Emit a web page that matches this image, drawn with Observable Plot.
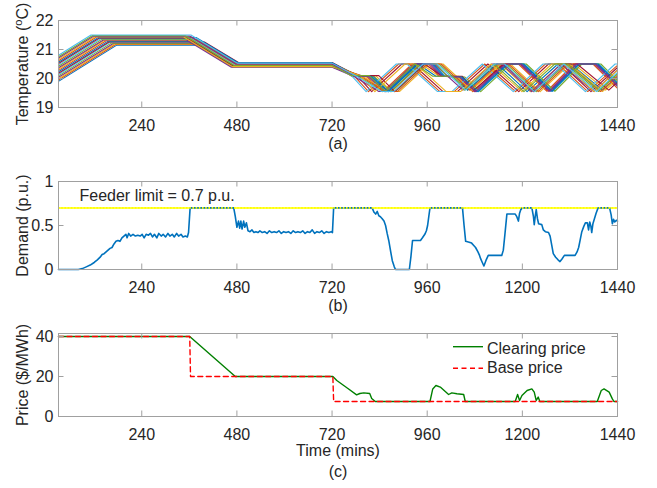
<!DOCTYPE html>
<html><head><meta charset="utf-8">
<script src="https://cdn.jsdelivr.net/npm/d3@7"></script>
<script src="https://cdn.jsdelivr.net/npm/@observablehq/plot@0.6"></script>
<style>
html,body{margin:0;padding:0;background:#fff;}
#wrap{position:relative;width:657px;height:488px;overflow:hidden;background:#fff;}
#wrap > svg{display:block;}
</style></head><body><div id="wrap"></div>
<script>
// ---------- data ----------
const xTicks = [240, 480, 720, 960, 1200, 1440];
const tempTicks = [19, 20, 21, 22];
const demandTicks = [0, 0.5, 1];
const priceTicks = [0, 20, 40];
const feederLimit = 0.7;
const feederText = "Feeder limit = 0.7 p.u.";
const legendLabels = ["Clearing price", "Base price"];

// house indoor temperatures, flat [t, v, t, v, ...] per house
const houseTemps = [
 [30,19.90,177,21.15,384,21.15,472,20.42,720,20.42,780,20.08,815,20.08,858,19.55,932,20.5,972,20.5,1000,20.08,1045,20.05,1085,19.55,1160,20.5,1200,20.5,1272,19.56,1340,20.5,1388,20.5,1440,19.8],
 [30,19.95,174,21.17,397,21.17,478,20.50,720,20.50,775,20.1,812,19.55,888,20.5,915,20.5,992,19.55,1028,19.55,1105,20.5,1183,19.55,1258,20.5,1290,20.5,1365,19.55,1440,20.45],
 [30,19.99,171,21.19,381,21.19,470,20.45,720,20.45,785,20.1,830,20.1,870,19.55,945,20.5,990,20.08,1040,20.08,1070,19.6,1145,20.5,1220,19.55,1298,20.5,1330,20.5,1410,19.6,1440,19.95],
 [30,20.04,168,21.21,400,21.21,482,20.53,720,20.53,774,20.08,809,20.08,852,19.55,926,20.5,966,20.5,994,20.08,1039,20.05,1079,19.55,1154,20.5,1194,20.5,1266,19.56,1334,20.5,1382,20.5,1440,19.72],
 [30,20.09,163,21.22,369,21.22,468,20.40,720,20.40,790,20.05,850,19.55,880,19.55,955,20.5,990,20.5,1062,19.6,1135,20.5,1160,20.5,1235,19.55,1310,20.5,1392,19.55,1440,20.15],
 [30,20.14,159,21.24,384,21.24,476,20.48,720,20.48,785,20.08,820,20.08,863,19.55,937,20.5,977,20.5,1005,20.08,1050,20.05,1090,19.55,1165,20.5,1205,20.5,1277,19.56,1345,20.5,1393,20.5,1440,19.87],
 [30,20.18,157,21.26,398,21.26,484,20.55,720,20.55,783,20.1,820,19.55,896,20.5,923,20.5,1000,19.55,1036,19.55,1113,20.5,1191,19.55,1266,20.5,1298,20.5,1373,19.55,1440,20.38],
 [30,20.23,154,21.28,370,21.28,471,20.44,720,20.44,777,20.1,822,20.1,862,19.55,937,20.5,982,20.08,1032,20.08,1062,19.6,1137,20.5,1212,19.55,1290,20.5,1322,20.5,1402,19.6,1440,20.05],
 [30,20.28,150,21.30,384,21.30,479,20.51,720,20.51,770,20.08,805,20.08,848,19.55,922,20.5,962,20.5,990,20.08,1035,20.05,1075,19.55,1150,20.5,1190,20.5,1262,19.56,1330,20.5,1378,20.5,1440,19.66],
 [30,20.33,146,21.32,370,21.32,474,20.46,720,20.46,800,20.05,860,19.55,890,19.55,965,20.5,1000,20.5,1072,19.6,1145,20.5,1170,20.5,1245,19.55,1320,20.5,1402,19.55,1440,20.02],
 [30,20.37,143,21.33,353,21.33,466,20.39,720,20.39,778,20.05,838,19.55,868,19.55,943,20.5,978,20.5,1050,19.6,1123,20.5,1148,20.5,1223,19.55,1298,20.5,1380,19.55,1440,20.3],
 [30,20.42,139,21.35,380,21.35,480,20.52,720,20.52,790,20.08,825,20.08,868,19.55,942,20.5,982,20.5,1010,20.08,1055,20.05,1095,19.55,1170,20.5,1210,20.5,1282,19.56,1350,20.5,1398,20.5,1440,19.93],
 [30,20.47,136,21.37,367,21.37,475,20.47,720,20.47,769,20.1,806,19.55,882,20.5,909,20.5,986,19.55,1022,19.55,1099,20.5,1177,19.55,1252,20.5,1284,20.5,1359,19.55,1434,20.5,1440,20.5],
 [30,20.52,132,21.39,354,21.39,470,20.43,720,20.43,793,20.1,838,20.1,878,19.55,953,20.5,998,20.08,1048,20.08,1078,19.6,1153,20.5,1228,19.55,1306,20.5,1338,20.5,1418,19.6,1440,19.88],
 [30,20.56,130,21.41,378,21.41,483,20.54,720,20.54,783,20.08,818,20.08,861,19.55,935,20.5,975,20.5,1003,20.08,1048,20.05,1088,19.55,1163,20.5,1203,20.5,1275,19.56,1343,20.5,1391,20.5,1440,19.84],
 [30,20.61,126,21.43,364,21.43,477,20.49,720,20.49,795,20.05,855,19.55,885,19.55,960,20.5,995,20.5,1067,19.6,1140,20.5,1165,20.5,1240,19.55,1315,20.5,1397,19.55,1440,20.09],
 [30,20.66,122,21.44,345,21.44,469,20.41,720,20.41,791,20.1,828,19.55,904,20.5,931,20.5,1008,19.55,1044,19.55,1121,20.5,1199,19.55,1274,20.5,1306,20.5,1381,19.55,1440,20.29],
 [30,20.71,118,21.46,362,21.46,478,20.50,720,20.50,777,20.08,812,20.08,855,19.55,929,20.5,969,20.5,997,20.08,1042,20.05,1082,19.55,1157,20.5,1197,20.5,1269,19.56,1337,20.5,1385,20.5,1440,19.76],
 [30,20.75,116,21.48,349,21.48,473,20.45,720,20.45,769,20.1,814,20.1,854,19.55,929,20.5,974,20.08,1024,20.08,1054,19.6,1129,20.5,1204,19.55,1282,20.5,1314,20.5,1394,19.6,1440,20.17],
 [30,20.80,112,21.50,364,21.50,481,20.53,720,20.53,785,20.05,845,19.55,875,19.55,950,20.5,985,20.5,1057,19.6,1130,20.5,1155,20.5,1230,19.55,1305,20.5,1387,19.55,1440,20.21]
];

// aggregate demand (p.u.), [t, v]
const demand = [
 [30,0],[80,0],[90,0.01],[100,0.03],[110,0.05],[120,0.08],[128,0.11],[135,0.14],[140,0.17],[145,0.18],[150,0.2],[155,0.22],[160,0.24],[165,0.25],[170,0.29],[175,0.32],[180,0.33],[185,0.32],[190,0.36],[195,0.38],[200,0.40],[203,0.36],[207,0.41],[212,0.38],[218,0.40],[224,0.38],[230,0.39],[236,0.38],[241,0.40],[246,0.36],[251,0.40],[257,0.39],[262,0.41],[267,0.37],[272,0.40],[278,0.36],[283,0.41],[289,0.38],[294,0.40],[300,0.37],[306,0.41],[311,0.38],[317,0.40],[322,0.37],[328,0.41],[333,0.38],[339,0.40],[344,0.37],[350,0.38],[355,0.37],[358,0.42],[362,0.70],[472,0.70],[476,0.60],[480,0.48],[484,0.55],[487,0.47],[490,0.55],[493,0.46],[497,0.55],[500,0.48],[504,0.53],[508,0.44],[513,0.43],[518,0.45],[523,0.42],[528,0.43],[533,0.42],[538,0.44],[544,0.42],[550,0.43],[556,0.41],[562,0.44],[568,0.42],[574,0.43],[580,0.42],[586,0.44],[592,0.41],[598,0.43],[604,0.42],[610,0.43],[616,0.41],[622,0.44],[628,0.42],[634,0.43],[640,0.42],[646,0.44],[652,0.41],[658,0.43],[664,0.42],[670,0.45],[676,0.41],[682,0.43],[688,0.42],[694,0.44],[700,0.41],[706,0.43],[712,0.42],[718,0.43],[721,0.42],[724,0.70],[821,0.70],[826,0.65],[830,0.63],[834,0.66],[838,0.61],[842,0.60],[846,0.58],[851,0.55],[855,0.50],[859,0.41],[863,0.33],[868,0.20],[872,0.10],[877,0.03],[880,0],[915,0],[919,0.15],[923,0.33],[943,0.33],[948,0.36],[954,0.40],[958,0.44],[961,0.50],[964,0.60],[967,0.70],[1049,0.70],[1053,0.50],[1057,0.32],[1066,0.31],[1072,0.30],[1078,0.27],[1082,0.25],[1088,0.20],[1092,0.16],[1095,0.12],[1099,0.08],[1103,0.04],[1108,0.10],[1114,0.16],[1148,0.16],[1152,0.22],[1156,0.40],[1161,0.63],[1182,0.63],[1186,0.60],[1190,0.55],[1193,0.64],[1196,0.68],[1200,0.70],[1224,0.70],[1228,0.60],[1230,0.51],[1233,0.62],[1235,0.68],[1238,0.58],[1241,0.52],[1249,0.51],[1253,0.45],[1258,0.43],[1266,0.42],[1270,0.38],[1274,0.28],[1278,0.18],[1284,0.14],[1290,0.11],[1295,0.09],[1300,0.12],[1306,0.16],[1333,0.16],[1338,0.20],[1342,0.25],[1346,0.34],[1350,0.43],[1355,0.49],[1359,0.53],[1364,0.53],[1367,0.45],[1370,0.54],[1373,0.49],[1375,0.42],[1378,0.52],[1382,0.58],[1386,0.64],[1391,0.70],[1420,0.70],[1424,0.62],[1427,0.52],[1430,0.57],[1433,0.54],[1437,0.56],[1440,0.55]
];

// prices ($/MWh), [t, v]
const clearingPrice = [
 [30,40],[361,40],[476,20],[722,20],[732,18],[760,14],[782,10.8],[790,11.5],[800,11.8],[815,11.5],[820,9],[829,7.5],[967,7.5],[974,13.8],[982,15.5],[993,14.7],[1014,11],[1022,11.8],[1035,11.4],[1052,11],[1056,7.5],[1182,7.5],[1188,11],[1193,8],[1199,10.5],[1212,13],[1224,13.8],[1230,12.2],[1235,8],[1240,9.7],[1244,7.5],[1389,7.5],[1399,13],[1406,13.8],[1419,12.2],[1427,8.8],[1431,7.5],[1440,7.5]
];
const basePrice = [
 [30,40],[361,40],[363,20],[722,20],[724,7.5],[1440,7.5]
];

// ---------- styling ----------
const matlabColors = ["#0072BD","#D95319","#EDB120","#7E2F8E","#77AC30","#4DBEEE","#A2142F"];
const ink = "#262626";
const boxColor = "#a0a0a0";
const fontFam = '"Liberation Sans", Arial, Helvetica, sans-serif';
const W = 657, mL = 58, mR = 40, tickLen = 5.5;
const plotW = W - mL - mR;
const xDomain = [30, 1440];
const fmt = d => String(d);

function frameMarks(yTicks, plotH) {
  return [
    Plot.frame({stroke: boxColor}),
    Plot.tickX(xTicks, {x: d => d, stroke: boxColor, insetTop: plotH - tickLen}),
    Plot.tickX(xTicks, {x: d => d, stroke: boxColor, insetBottom: plotH - tickLen}),
    Plot.tickY(yTicks, {y: d => d, stroke: boxColor, insetRight: plotW - tickLen}),
    Plot.tickY(yTicks, {y: d => d, stroke: boxColor, insetLeft: plotW - tickLen}),
    Plot.axisX(xTicks, {tickSize: 0, tickPadding: 12, tickFormat: fmt, label: null, fill: ink}),
    Plot.axisY(yTicks, {tickSize: 0, tickPadding: 5, tickFormat: fmt, label: null, fill: ink})
  ];
}
function yLabel(txt) {
  return Plot.text([txt], {frameAnchor: "left", textAnchor: "middle", lineAnchor: "middle", rotate: -90, dx: -36, fill: ink});
}
const baseStyle = {fontFamily: fontFam, fontSize: "16px", color: ink, background: "transparent", overflow: "visible"};

// ---------- (a) temperature ----------
const tempRows = houseTemps.flatMap((arr, h) => {
  const rows = [];
  for (let k = 0; k < arr.length; k += 2) rows.push({house: h, t: arr[k], v: arr[k + 1]});
  return rows;
});
const hA = 160, topA = 20, botA = 53;
const chartA = Plot.plot({
  width: W, height: hA, marginLeft: mL, marginRight: mR, marginTop: topA, marginBottom: botA,
  style: baseStyle,
  x: {domain: xDomain},
  y: {domain: [19, 22]},
  color: {type: "ordinal", range: matlabColors},
  marks: [
    Plot.line(tempRows, {x: "t", y: "v", z: "house", stroke: "house", strokeWidth: 1.1}),
    ...frameMarks(tempTicks, hA - topA - botA),
    Plot.text(["(a)"], {frameAnchor: "bottom", dy: 41.5, fill: ink}),
    yLabel("Temperature (oC)")
  ]
});

// ---------- (b) demand ----------
const demandRows = demand.map(([t, v]) => ({t, v}));
const hB = 160, topB = 21, botB = 51;
const chartB = Plot.plot({
  width: W, height: hB, marginLeft: mL, marginRight: mR, marginTop: topB, marginBottom: botB,
  style: baseStyle,
  x: {domain: xDomain},
  y: {domain: [0, 1]},
  marks: [
    Plot.ruleY([feederLimit], {stroke: "#ffff00", strokeWidth: 1.5}),
    Plot.line(demandRows, {x: "t", y: "v", stroke: "#0072BD", strokeWidth: 1.6}),
    Plot.ruleY([feederLimit], {stroke: "#ffff00", strokeWidth: 1.6, strokeDasharray: "1.6,1.6"}),
    ...frameMarks(demandTicks, hB - topB - botB),
    Plot.text([feederText], {frameAnchor: "top-left", dx: 21, dy: 8.5, lineAnchor: "top", textAnchor: "start", fill: ink}),
    Plot.text(["(b)"], {frameAnchor: "bottom", dy: 41.5, fill: ink}),
    yLabel("Demand (p.u.)")
  ]
});

// ---------- (c) price ----------
const clearRows = clearingPrice.map(([t, v]) => ({t, v}));
const baseRows = basePrice.map(([t, v]) => ({t, v}));
const hC = 168, topC = 13, botC = 72;
const chartC = Plot.plot({
  width: W, height: hC, marginLeft: mL, marginRight: mR, marginTop: topC, marginBottom: botC,
  style: baseStyle,
  x: {domain: xDomain},
  y: {domain: [0, 41.5]},
  marks: [
    Plot.line(clearRows, {x: "t", y: "v", stroke: "#008000", strokeWidth: 1.4}),
    Plot.line(baseRows, {x: "t", y: "v", stroke: "#ff0000", strokeWidth: 1.4, strokeDasharray: "5,3.5"}),
    ...frameMarks(priceTicks, hC - topC - botC),
    Plot.text(["Time (mins)"], {frameAnchor: "bottom", dy: 39, fill: ink}),
    Plot.text(["(c)"], {frameAnchor: "bottom", dy: 60.5, fill: ink}),
    yLabel("Price ($/MWh)")
  ]
});

const wrap = document.getElementById("wrap");
wrap.append(chartA, chartB, chartC);

// superscript "o" in the temperature label
const lab = [...chartA.querySelectorAll("text")].find(e => e.textContent === "Temperature (oC)");
if (lab) {
  lab.textContent = "";
  const ns = "http://www.w3.org/2000/svg";
  const parts = [["Temperature (", null, null], ["o", "-5.5", "11px"], ["C)", "5.5", null]];
  for (const [txt, dy, fs] of parts) {
    const ts = document.createElementNS(ns, "tspan");
    ts.textContent = txt;
    if (dy) ts.setAttribute("dy", dy);
    if (fs) ts.setAttribute("font-size", fs);
    lab.appendChild(ts);
  }
}

// legend for (c)
const leg = d3.select(wrap).append("svg")
  .attr("width", 200).attr("height", 46)
  .style("position", "absolute").style("left", "450px").style("top", "336px")
  .style("font-family", fontFam).style("font-size", "16px");
const legStyles = [{stroke: "#008000", dash: null, ly: 10.7, ty: 18.2}, {stroke: "#ff0000", dash: "5,3.5", ly: 32.3, ty: 37.2}];
legendLabels.forEach((lbl, i) => {
  const s = legStyles[i];
  leg.append("line").attr("x1", 3).attr("x2", 33).attr("y1", s.ly).attr("y2", s.ly)
    .attr("stroke", s.stroke).attr("stroke-width", 1.4).attr("stroke-dasharray", s.dash);
  leg.append("text").attr("x", 37).attr("y", s.ty).attr("fill", ink).text(lbl);
});
</script></body></html>
